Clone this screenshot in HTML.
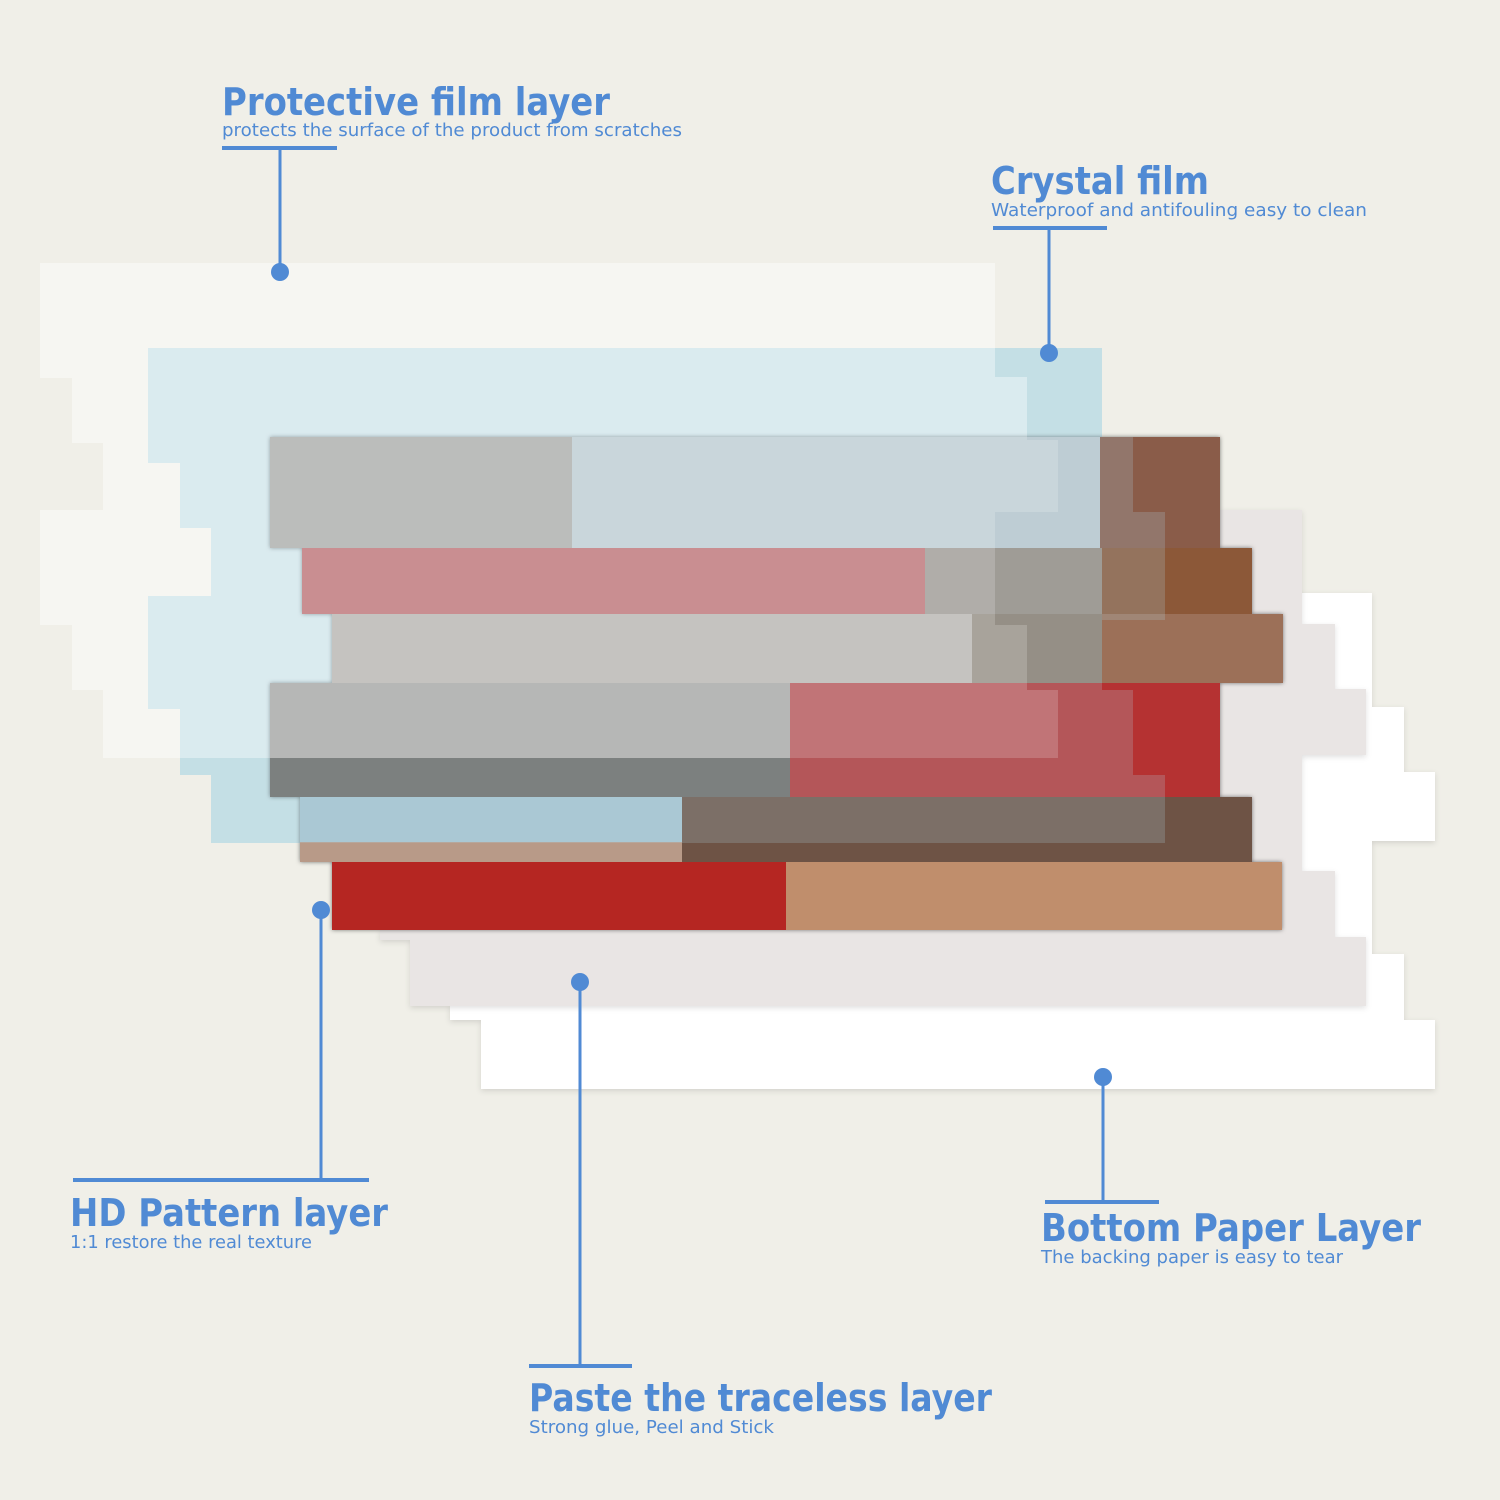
<!DOCTYPE html>
<html><head><meta charset="utf-8"><style>
html,body{margin:0;padding:0;background:#f0efe8;}
svg{display:block}
.t{font-family:"DejaVu Sans","Liberation Sans",sans-serif;font-weight:bold;fill:#508ad4}
.s{font-family:"DejaVu Sans","Liberation Sans",sans-serif;fill:#508ad4}
</style></head><body>
<svg width="1500" height="1500" viewBox="0 0 1500 1500" xmlns="http://www.w3.org/2000/svg">
<defs>
<filter id="sh" x="-5%" y="-5%" width="110%" height="110%"><feDropShadow dx="0" dy="2" stdDeviation="3" flood-color="#000" flood-opacity="0.12"/></filter>
<filter id="ws" x="-5%" y="-5%" width="110%" height="110%"><feDropShadow dx="0" dy="0" stdDeviation="2" flood-color="#000" flood-opacity="0.5"/></filter>
<polygon id="cry" points="148,348 1102,348 1102,437 1133,437 1133,512 1165,512 1165,620 1102,620 1102,690 1133,690 1133,775 1165,775 1165,843 211,843 211,775 180,775 180,709 148,709 148,596 211,596 211,528 180,528 180,463 148,463"/>
<polygon id="pro" points="40,263 995,263 995,377 1027,377 1027,440 1058,440 1058,512 995,512 995,625 1027,625 1027,690 1058,690 1058,758 103,758 103,690 72,690 72,625 40,625 40,510 103,510 103,443 72,443 72,378 40,378"/>
</defs>
<rect width="1500" height="1500" fill="#f0efe8"/>
<!-- bottom paper -->
<polygon filter="url(#sh)" fill="#ffffff" points="1250,593 1372,593 1372,707 1404,707 1404,772 1435,772 1435,841 1372,841 1372,954 1404,954 1404,1020 1435,1020 1435,1089 481,1089 481,1020 450,1020 450,1005 1250,1005"/>
<!-- paste layer -->
<polygon filter="url(#sh)" fill="#e9e5e4" points="1220,510 1302,510 1302,624 1335,624 1335,689 1366,689 1366,755 1302,755 1302,871 1335,871 1335,937 1366,937 1366,1006 410,1006 410,940 380,940 380,930 1220,930"/>
<!-- films on background -->
<use href="#cry" fill="#b0d8e4" fill-opacity="0.6"/>
<use href="#pro" fill="#ffffff" fill-opacity="0.35"/>
<!-- wood -->
<g filter="url(#ws)">
<rect x="270" y="437" width="302" height="111" fill="#aba49e"/>
<rect x="572" y="437" width="648" height="111" fill="#c2cbd0"/>
<rect x="1100" y="437" width="120" height="111" fill="#8a5c48"/>
<rect x="302" y="548" width="623" height="66" fill="#c05c5c"/>
<rect x="925" y="548" width="327" height="66" fill="#9a8c80"/>
<rect x="1102" y="548" width="150" height="66" fill="#8c5838"/>
<rect x="332" y="614" width="640" height="69" fill="#bcaea4"/>
<rect x="972" y="614" width="311" height="69" fill="#8e7c6c"/>
<rect x="1102" y="614" width="181" height="69" fill="#9c7058"/>
<rect x="270" y="683" width="520" height="114" fill="#a49c96"/>
<rect x="270" y="758" width="520" height="39" fill="#6e6864"/>
<rect x="790" y="683" width="430" height="114" fill="#b53232"/>
<rect x="300" y="797" width="382" height="65" fill="#a8c4d0"/>
<rect x="300" y="842" width="382" height="20" fill="#b89a88"/>
<rect x="682" y="797" width="570" height="65" fill="#6e5244"/>
<rect x="332" y="862" width="454" height="68" fill="#b52820"/>
<rect x="786" y="862" width="496" height="68" fill="#c08e6c"/>
</g>
<!-- films over wood (light) -->
<use href="#cry" fill="#b0d8e4" fill-opacity="0.22"/>
<use href="#pro" fill="#ffffff" fill-opacity="0.18"/>
<!-- connectors -->
<g stroke="#508ad4" stroke-width="3" fill="none">
<line x1="222" y1="148" x2="337" y2="148" stroke-width="4"/>
<line x1="280" y1="148" x2="280" y2="272"/>
<line x1="993" y1="228" x2="1107" y2="228" stroke-width="4"/>
<line x1="1049" y1="228" x2="1049" y2="353"/>
<line x1="73" y1="1180" x2="369" y2="1180" stroke-width="4"/>
<line x1="321" y1="910" x2="321" y2="1180"/>
<line x1="1045" y1="1202" x2="1159" y2="1202" stroke-width="4"/>
<line x1="1103" y1="1077" x2="1103" y2="1202"/>
<line x1="529" y1="1366" x2="632" y2="1366" stroke-width="4"/>
<line x1="580" y1="982" x2="580" y2="1366"/>
</g>
<g fill="#508ad4">
<circle cx="280" cy="272" r="9"/>
<circle cx="1049" cy="353" r="9"/>
<circle cx="321" cy="910" r="9"/>
<circle cx="1103" cy="1077" r="9"/>
<circle cx="580" cy="982" r="9"/>
</g>
<!-- labels -->
<text class="t" x="222" y="115" font-size="38" textLength="388" lengthAdjust="spacingAndGlyphs">Protective film layer</text>
<text class="s" x="222" y="136" font-size="18" textLength="460" lengthAdjust="spacingAndGlyphs">protects the surface of the product from scratches</text>
<text class="t" x="991" y="194" font-size="38" textLength="218" lengthAdjust="spacingAndGlyphs">Crystal film</text>
<text class="s" x="991" y="216" font-size="18" textLength="376" lengthAdjust="spacingAndGlyphs">Waterproof and antifouling easy to clean</text>
<text class="t" x="70" y="1226" font-size="38" textLength="318" lengthAdjust="spacingAndGlyphs">HD Pattern layer</text>
<text class="s" x="70" y="1248" font-size="18" textLength="242" lengthAdjust="spacingAndGlyphs">1:1 restore the real texture</text>
<text class="t" x="1041" y="1241" font-size="38" textLength="380" lengthAdjust="spacingAndGlyphs">Bottom Paper Layer</text>
<text class="s" x="1041" y="1263" font-size="18" textLength="302" lengthAdjust="spacingAndGlyphs">The backing paper is easy to tear</text>
<text class="t" x="529" y="1411" font-size="38" textLength="463" lengthAdjust="spacingAndGlyphs">Paste the traceless layer</text>
<text class="s" x="529" y="1433" font-size="18" textLength="245" lengthAdjust="spacingAndGlyphs">Strong glue, Peel and Stick</text>
</svg>
</body></html>
